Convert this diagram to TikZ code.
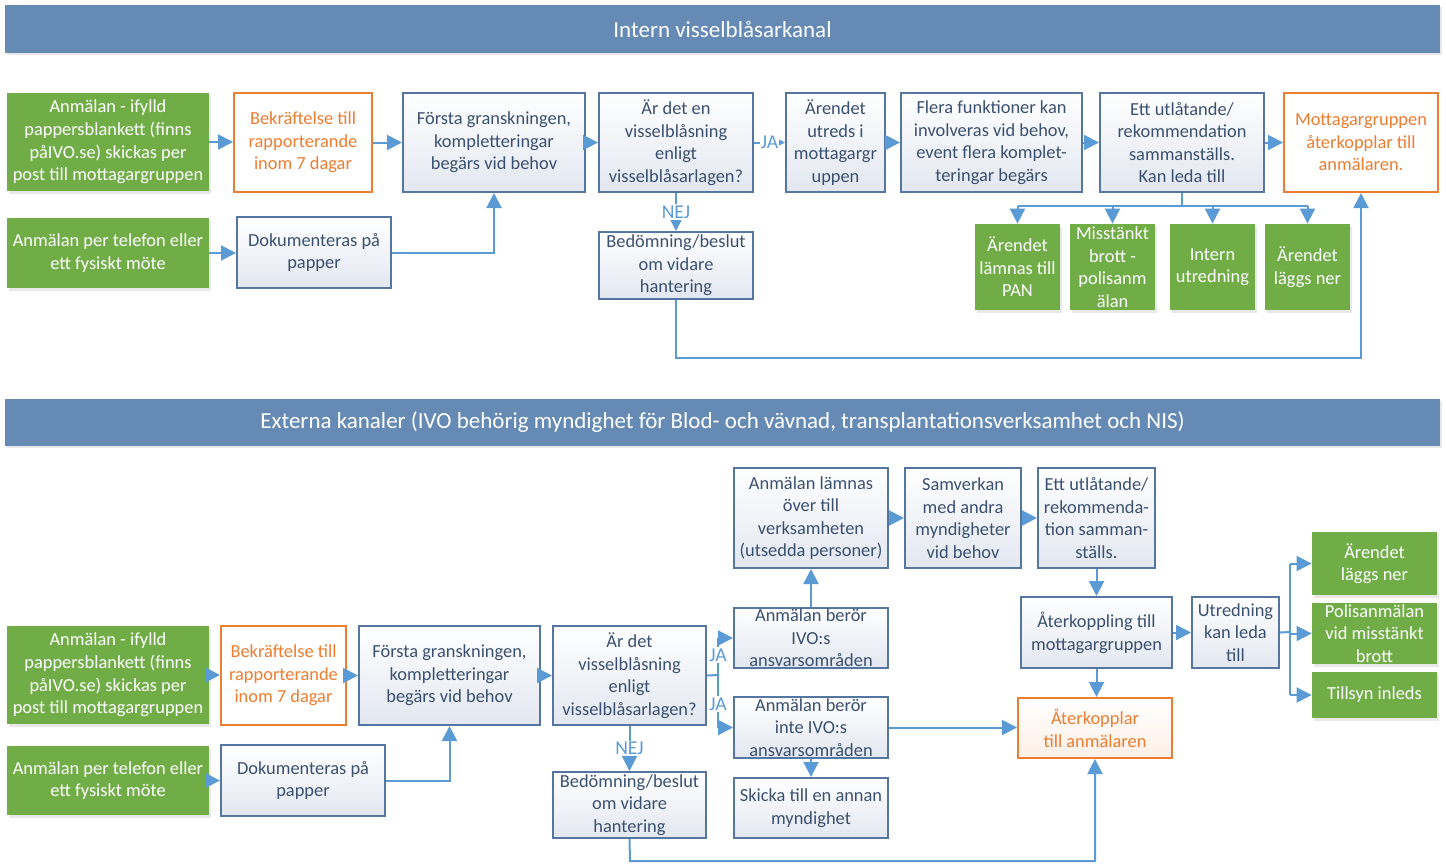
\documentclass[tikz,border=0pt]{standalone}
\usepackage{fontspec}
\setmainfont{Carlito}
\usetikzlibrary{arrows.meta,fit,shadows}
\definecolor{banner}{RGB}{101,138,180}
\definecolor{grn}{RGB}{112,173,71}
\definecolor{org}{RGB}{237,125,49}
\definecolor{bbord}{RGB}{84,118,160}
\definecolor{btxt}{RGB}{58,80,112}
\definecolor{arr}{RGB}{91,155,213}
\definecolor{bfill}{RGB}{226,231,240}
\tikzset{
  bbox/.style={draw=bbord, line width=1pt, top color=white, bottom color=bfill, inner sep=0pt},
  obox/.style={draw=org, line width=1pt, fill=white, inner sep=0pt},
  pbox/.style={draw=org, line width=1pt, top color=white, bottom color=org!12, inner sep=0pt},
  gbox/.style={fill=grn, inner sep=0pt, drop shadow={opacity=0.18, shadow xshift=1pt, shadow yshift=-1.5pt}},
  txt/.style={align=center, font=\fontsize{9.2}{11.3}\selectfont, inner sep=0pt},
  btx/.style={txt, text=btxt},
  otx/.style={txt, text=org},
  ptx/.style={txt, text=org},
  gtx/.style={txt, text=white},
  banbox/.style={fill=banner, inner sep=0pt, drop shadow={opacity=0.18, shadow xshift=0.8pt, shadow yshift=-1.2pt}},
  bantx/.style={text=white, font=\fontsize{11.5}{13}\selectfont, inner sep=0pt},
  conn/.style={draw=arr, line width=1pt, -{Triangle[length=7.5pt,width=7.5pt]}},
  plainline/.style={draw=arr, line width=1pt},
  lbl/.style={fill=white, text=arr, font=\fontsize{9.8}{11}\selectfont, inner sep=0.6pt}
}
\newcommand\mybox[5]{\node[#1box, fit={(#3) (#4)}] (#2) {};\node[#1tx] at (#2.center) {#5};}
\begin{document}
\begin{tikzpicture}[x=0.5pt,y=-0.5pt]
\useasboundingbox[fill=white] (0,0) rectangle (1446,864);
% banners
\node[banbox, fit={(5,5) (1440,53)}] (t1) {};
\node[bantx] at (t1.center) {Intern visselblåsarkanal};
\node[banbox, fit={(5,399) (1440,446)}] (t2) {};
\node[bantx] at (t2.center) {Externa kanaler (IVO behörig myndighet för Blod- och vävnad, transplantationsverksamhet och NIS)};
% ---- top section
\mybox{g}{g1}{7,93}{209,191}{Anmälan - ifylld\\pappersblankett (finns\\påIVO.se) skickas per\\post till mottagargruppen}
\mybox{o}{o1}{234,93}{372,192}{Bekräftelse till\\rapporterande\\inom 7 dagar}
\mybox{b}{b1}{403,93}{585,192}{Första granskningen,\\kompletteringar\\begärs vid behov}
\mybox{b}{b2}{599,93}{753,192}{Är det en\\visselblåsning\\enligt\\visselblåsarlagen?}
\mybox{b}{b3}{786,93}{885,192}{Ärendet\\utreds i\\mottagargr\\uppen}
\mybox{b}{b4}{901,93}{1082,192}{Flera funktioner kan\\involveras vid behov,\\event flera komplet-\\teringar begärs}
\mybox{b}{b5}{1100,93}{1264,192}{Ett utlåtande/\\rekommendation\\sammanställs.\\Kan leda till}
\mybox{o}{o2}{1284,93}{1438,192}{Mottagargruppen\\återkopplar till\\anmälaren.}
\mybox{g}{g2}{7,218}{209,288}{Anmälan per telefon eller\\ett fysiskt möte}
\mybox{b}{b6}{237,217}{391,288}{Dokumenteras på\\papper}
\mybox{b}{b7}{599,232}{753,299}{Bedömning/beslut\\om vidare\\hantering}
\mybox{g}{g3}{975,224}{1060,310}{Ärendet\\lämnas till\\PAN}
\mybox{g}{g4}{1070,224}{1155,310}{Misstänkt\\brott -\\polisanm\\älan}
\mybox{g}{g5}{1170,224}{1255,310}{Intern\\utredning}
\mybox{g}{g6}{1265,224}{1350,310}{Ärendet\\läggs ner}
% top connectors
\draw[conn] (g1.east) -- (g1.east -| o1.west);
\draw[conn] (o1.east) -- (o1.east -| b1.west);
\draw[conn] (b1.east) -- (b1.east -| b2.west);
\draw[conn] (b2.east) -- node[lbl]{JA} (b2.east -| b3.west);
\draw[conn] (b3.east) -- (b3.east -| b4.west);
\draw[conn] (b4.east) -- (b4.east -| b5.west);
\draw[conn] (b5.east) -- (b5.east -| o2.west);
\draw[conn] (g2.east) -- (g2.east -| b6.west);
\draw[conn] (b6.east) -| (b1.south);
\draw[conn] (b2.south) -- node[lbl]{NEJ} (b7.north);
\coordinate (k1) at (676,358);
\draw[conn] (b7.south) -- (k1) -| (o2.south);
\coordinate (br) at (1182,206);
\draw[plainline] (b5.south) -- (br);
\draw[plainline] (g3.north |- br) -- (g6.north |- br);
\draw[conn] (g3.north |- br) -- (g3.north);
\draw[conn] (g4.north |- br) -- (g4.north);
\draw[conn] (g5.north |- br) -- (g5.north);
\draw[conn] (g6.north |- br) -- (g6.north);
% ---- bottom section
\mybox{g}{g7}{7,626}{209,724}{Anmälan - ifylld\\pappersblankett (finns\\påIVO.se) skickas per\\post till mottagargruppen}
\mybox{o}{o3}{221,626}{346,725}{Bekräftelse till\\rapporterande\\inom 7 dagar}
\mybox{b}{b8}{359,626}{540,725}{Första granskningen,\\kompletteringar\\begärs vid behov}
\mybox{b}{b9}{553,626}{706,725}{Är det\\visselblåsning\\enligt\\visselblåsarlagen?}
\mybox{g}{g8}{7,746}{209,815}{Anmälan per telefon eller\\ett fysiskt möte}
\mybox{b}{b10}{221,745}{385,816}{Dokumenteras på\\papper}
\mybox{b}{b11}{553,772}{706,838}{Bedömning/beslut\\om vidare\\hantering}
\mybox{b}{b12}{734,468}{888,568}{Anmälan lämnas\\över till\\verksamheten\\(utsedda personer)}
\mybox{b}{b13}{905,468}{1021,568}{Samverkan\\med andra\\myndigheter\\vid behov}
\mybox{b}{b14}{1038,468}{1155,568}{Ett utlåtande/\\rekommenda-\\tion samman-\\ställs.}
\mybox{b}{b15}{734,608}{888,668}{Anmälan berör\\IVO:s\\ansvarsområden}
\mybox{b}{b16}{734,697}{888,758}{Anmälan berör\\inte IVO:s\\ansvarsområden}
\mybox{b}{b17}{734,778}{888,838}{Skicka till en annan\\myndighet}
\mybox{b}{b18}{1021,597}{1172,668}{Återkoppling till\\mottagargruppen}
\mybox{p}{o4}{1018,698}{1172,758}{Återkopplar\\till anmälaren}
\mybox{b}{b19}{1192,597}{1279,668}{Utredning\\kan leda\\till}
\mybox{g}{g9}{1312,532}{1437,595}{Ärendet\\läggs ner}
\mybox{g}{g10}{1312,603}{1437,664}{Polisanmälan\\vid misstänkt\\brott}
\mybox{g}{g11}{1312,672}{1437,718}{Tillsyn inleds}
% bottom connectors
\draw[conn] (g7.east) -- (g7.east -| o3.west);
\draw[conn] (o3.east) -- (o3.east -| b8.west);
\draw[conn] (b8.east) -- (b8.east -| b9.west);
\draw[conn] (g8.east) -- (g8.east -| b10.west);
\draw[conn] (b10.east) -| (b8.south);
\coordinate (ja) at (718,675);
\draw[plainline] (b9.east) -- (ja);
\draw[plainline] (ja |- b15.west) -- (ja |- b16.west);
\node[lbl] at (718,655) {JA};
\node[lbl] at (718,704) {JA};
\draw[conn] (ja |- b15.west) -- (b15.west);
\draw[conn] (ja |- b16.west) -- (b16.west);
\draw[conn] (b9.south) -- node[lbl]{NEJ} (b11.north);
\draw[conn] (b15.north) -- (b12.south);
\draw[conn] (b12.east) -- (b12.east -| b13.west);
\draw[conn] (b13.east) -- (b13.east -| b14.west);
\draw[conn] (b14.south) -- (b14.south |- b18.north);
\draw[conn] (b18.east) -- (b18.east -| b19.west);
\draw[conn] (b18.south) -- (b18.south |- o4.north);
\draw[conn] (b16.east) -- (b16.east -| o4.west);
\draw[conn] (b16.south) -- (b17.north);
\coordinate (k2) at (630,861);
\draw[conn] (b11.south) -- (k2) -| (o4.south);
\coordinate (sp) at (1290,632);
\draw[plainline] (b19.east) -- (sp);
\draw[plainline] (sp |- g9.west) -- (sp |- g11.west);
\draw[conn] (sp |- g9.west) -- (g9.west);
\draw[conn] (sp |- g10.west) -- (g10.west);
\draw[conn] (sp |- g11.west) -- (g11.west);
\end{tikzpicture}
\end{document}
